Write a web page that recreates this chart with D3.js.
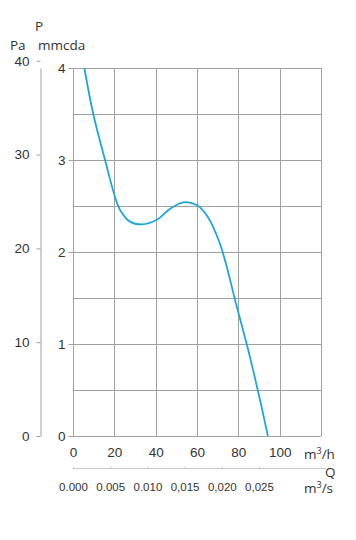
<!DOCTYPE html>
<html>
<head>
<meta charset="utf-8">
<script src="https://cdn.jsdelivr.net/npm/d3@7"></script>
<style>
  body { margin: 0; background: #fff; }
  svg { display: block; font-family: "Open Sans", "Noto Sans", sans-serif; }
</style>
</head>
<body>
<svg id="chart" width="356" height="540"></svg>
<script>
// Q in m3/h, P in mmcda
const qValues = [5.5, 9.8, 15.5, 20.3, 22.7, 27.6, 33.2, 40.5, 47, 53.4, 59.8, 64.7, 71.1, 79.2, 85.6, 94.3];
const pValues = [4.0, 3.5, 3.0, 2.6, 2.46, 2.33, 2.30, 2.35, 2.47, 2.54, 2.51, 2.40, 2.09, 1.41, 0.86, 0.0];

const qTicks = [0, 20, 40, 60, 80, 100];
const qsTicks = [0, 0.005, 0.010, 0.015, 0.020, 0.025];
const qsLabels = ['0.000', '0.005', '0.010', '0,015', '0,020', '0,025'];
const mmTicks = [0, 1, 2, 3, 4];
const paTicks = [0, 10, 20, 30, 40];

const svg = d3.select('#chart');
const textColor = '#333';
const gridColor = '#a0a0a0';

const x = d3.scaleLinear([0, 120], [73, 321]);
const y = d3.scaleLinear([0, 4], [436, 68]);
// 1 mmcda = 9.80665 Pa
const yPa = d3.scaleLinear([0, 4 * 9.80665], [436, 68]);
// m3/s on the same width as m3/h
const xs = d3.scaleLinear([0, 120 / 3600], [73, 321]);

// grid
const grid = svg.append('g').attr('stroke', gridColor).attr('stroke-width', 1);
grid.selectAll('.vline')
  .data(d3.range(0, 121, 20))
  .join('line')
    .attr('x1', d => Math.round(x(d)) + 0.5)
    .attr('x2', d => Math.round(x(d)) + 0.5)
    .attr('y1', y(4))
    .attr('y2', y(0));
grid.selectAll('.hline')
  .data(d3.range(0, 4.01, 0.5))
  .join('line')
    .attr('x1', x(0))
    .attr('x2', x(120))
    .attr('y1', d => Math.round(y(d)) + 0.5)
    .attr('y2', d => Math.round(y(d)) + 0.5);

// mmcda axis
const mmAxis = svg.append('g')
  .attr('transform', `translate(${x(0) + 0.5},0)`)
  .call(d3.axisLeft(y).tickValues(mmTicks).tickFormat(d3.format('d')).tickSize(5).tickPadding(3));
mmAxis.select('.domain').remove();
mmAxis.selectAll('line').attr('stroke', gridColor);
mmAxis.selectAll('text').attr('fill', textColor).attr('font-size', 13.5);

// Pa axis
const paAxis = svg.append('g')
  .attr('transform', 'translate(40.5,0)')
  .call(d3.axisLeft(yPa).tickValues(paTicks).tickSize(4).tickSizeOuter(0).tickPadding(7));
paAxis.select('.domain').attr('stroke', gridColor);
paAxis.selectAll('line').attr('stroke', gridColor);
paAxis.selectAll('text').attr('fill', textColor).attr('font-size', 13.5);

// Q m3/h axis labels
const qAxis = svg.append('g')
  .attr('transform', `translate(0,${y(0) + 0.5})`)
  .call(d3.axisBottom(x).tickValues(qTicks).tickSize(0).tickPadding(11));
qAxis.select('.domain').remove();
qAxis.selectAll('text').attr('fill', textColor).attr('font-size', 13.5);

// Q m3/s axis
const qsAxis = svg.append('g')
  .attr('transform', 'translate(0,468.5)')
  .call(d3.axisBottom(xs).tickValues(qsTicks).tickFormat((d, i) => qsLabels[i]).tickSize(-2).tickSizeOuter(0).tickPadding(14));
qsAxis.select('.domain').attr('stroke', '#c8c8c8').attr('d', `M${xs(0)},0H326`);
qsAxis.selectAll('line').attr('stroke', '#c8c8c8');
qsAxis.selectAll('text').attr('fill', textColor).attr('font-size', 11.5);

// curve
const line = d3.line()
  .x(d => x(d[0]))
  .y(d => y(d[1]))
  .curve(d3.curveCatmullRom.alpha(0.5));
svg.append('path')
  .datum(d3.zip(qValues, pValues))
  .attr('d', line)
  .attr('fill', 'none')
  .attr('stroke', '#1ba6dc')
  .attr('stroke-width', 1.8);

// unit labels
const labels = svg.append('g').attr('fill', textColor).attr('font-size', 13.5);
labels.append('text').attr('x', 35).attr('y', 31).text('P');
labels.append('text').attr('x', 10).attr('y', 50).text('Pa');
labels.append('text').attr('x', 38).attr('y', 50).text('mmcda');
labels.append('text').attr('x', 304).attr('y', 459).html('m<tspan font-size="9" dy="-5">3</tspan><tspan dy="5">/h</tspan>');
labels.append('text').attr('x', 325).attr('y', 477).text('Q');
labels.append('text').attr('x', 304).attr('y', 493).html('m<tspan font-size="9" dy="-5">3</tspan><tspan dy="5">/s</tspan>');
</script>
</body>
</html>
